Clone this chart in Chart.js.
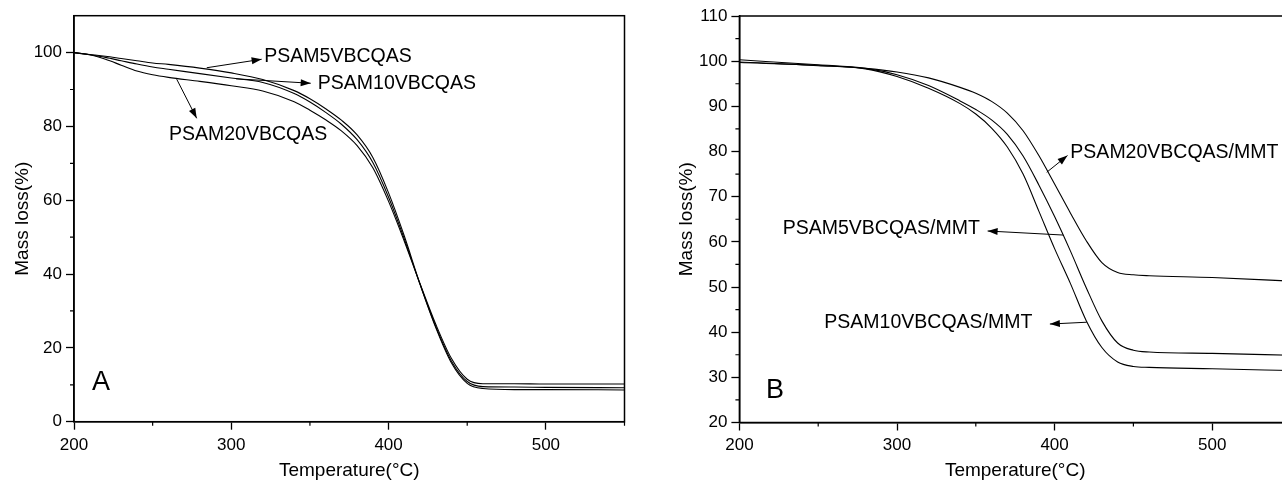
<!DOCTYPE html>
<html>
<head>
<meta charset="utf-8">
<script src="https://cdn.jsdelivr.net/npm/chart.js@4.4.1/dist/chart.umd.min.js"></script>
<style>
  html, body { margin: 0; padding: 0; background: #fff; overflow: hidden; width: 1282px; height: 487px; }
  .panel { position: absolute; top: 0; }
  #pa { left: 0; }
  #pb { left: 660px; }
</style>
</head>
<body>
<div class="panel" id="pa"><canvas id="ca" width="660" height="487"></canvas></div>
<div class="panel" id="pb"><canvas id="cb" width="660" height="487"></canvas></div>
<script>
'use strict';

// ── Data: panel A (copolymers) ────────────────────────────────────────────────
const tempA   = [200, 210, 220, 230, 240, 250, 260, 280, 300, 320, 340, 350, 360, 370, 380, 390, 400, 410, 420, 430, 440, 450, 460, 480, 500, 550];
const psam5A  = [100, 99.5, 99.0, 98.4, 97.8, 97.2, 96.8, 95.8, 94.5, 92.7, 89.7, 87.5, 84.8, 81.7, 77.7, 71.6, 62.0, 50.3, 37.3, 25.5, 15.9, 10.4, 9.0, 8.7, 8.7, 8.6];
const psam10A = [100, 99.4, 98.7, 97.8, 96.9, 96.1, 95.5, 94.3, 93.1, 91.9, 88.9, 86.6, 83.8, 80.6, 76.4, 70.2, 60.8, 49.5, 37.2, 25.8, 16.4, 10.9, 9.5, 9.4, 9.3, 9.2];
const psam20A = [100, 99.4, 98.2, 96.6, 95.0, 94.0, 93.3, 92.2, 91.0, 89.6, 86.7, 84.4, 81.8, 78.8, 74.8, 68.8, 59.7, 48.9, 37.4, 26.4, 17.1, 11.5, 10.3, 10.3, 10.2, 10.2];

// ── Data: panel B (MMT composites) ────────────────────────────────────────────
const tempB    = [200, 250, 280, 300, 320, 340, 350, 360, 370, 380, 390, 400, 410, 420, 430, 440, 450, 460, 500, 550];
const psam20B  = [99.7, 99.1, 98.4, 97.6, 96.3, 94.2, 92.9, 91.1, 88.5, 84.6, 79.1, 72.8, 66.4, 60.3, 55.4, 53.2, 52.7, 52.5, 52.1, 51.3];
const psam5B   = [100.3, 99.2, 98.4, 97.0, 94.6, 91.2, 89.3, 87.0, 83.8, 79.0, 72.6, 65.6, 58.0, 49.9, 42.5, 37.6, 36.0, 35.6, 35.3, 34.9];
const psam10B  = [99.8, 99.0, 98.3, 96.6, 94.0, 90.6, 88.3, 85.2, 81.0, 75.0, 66.8, 58.5, 50.8, 42.6, 36.6, 33.4, 32.4, 32.2, 31.9, 31.5];

// ── Labels with arrows: [text, textX, textY, fromX, fromY, toX, toY] in data units
const notesA = [
  ['PSAM5VBCQAS',  321,   98.8, 284.4, 95.9, 319.3, 98.2],
  ['PSAM10VBCQAS', 355,   91.7, 303,   92.9, 350.5, 91.7],
  ['PSAM20VBCQAS', 260.4, 77.7, 265.3, 92.8, 278,   82.2],
];
const notesB = [
  ['PSAM20VBCQAS/MMT', 410,   79.8, 395,   75.4, 408.2, 79.1],
  ['PSAM5VBCQAS/MMT',  227.5, 62.9, 405.5, 61.5, 357.5, 62.4],
  ['PSAM10VBCQAS/MMT', 253.9, 42.2, 420.4, 42.2, 397,   41.8],
];

Chart.defaults.font.family = "'Liberation Sans', Arial, sans-serif";
Chart.defaults.color = '#000';

// ── Frame, minor ticks, notes ─────────────────────────────────────────────────
const decor = {
  id: 'decor',
  afterDraw(chart, args, o) {
    const { ctx, chartArea: a, scales: { x, y } } = chart;
    ctx.save();
    ctx.strokeStyle = '#000';
    ctx.lineWidth = 1.5;
    ctx.strokeRect(a.left, a.top, a.right - a.left, a.bottom - a.top);

    ctx.lineWidth = 1.2;
    ctx.beginPath();
    x.ticks.forEach(t => {
      if (t.value % 100 === 0) return;
      const px = x.getPixelForValue(t.value);
      ctx.moveTo(px, a.bottom); ctx.lineTo(px, a.bottom + 4);
    });
    y.ticks.forEach(t => {
      if (t.value % o.yMajor === 0 || t.value > o.yTop) return;
      const py = y.getPixelForValue(t.value);
      ctx.moveTo(a.left - 4, py); ctx.lineTo(a.left, py);
    });
    ctx.stroke();

    ctx.fillStyle = '#000';
    ctx.font = "19.5px 'Liberation Sans', Arial, sans-serif";
    ctx.textAlign = 'left';
    ctx.textBaseline = 'middle';
    o.notes.forEach(([txt, tx, ty, fx, fy, hx, hy]) => {
      ctx.fillText(txt, x.getPixelForValue(tx), y.getPixelForValue(ty));
      const x0 = x.getPixelForValue(fx), y0 = y.getPixelForValue(fy);
      const x1 = x.getPixelForValue(hx), y1 = y.getPixelForValue(hy);
      const ang = Math.atan2(y1 - y0, x1 - x0);
      ctx.lineWidth = 1;
      ctx.beginPath(); ctx.moveTo(x0, y0); ctx.lineTo(x1, y1); ctx.stroke();
      ctx.beginPath();
      ctx.moveTo(x1, y1);
      ctx.lineTo(x1 - 10 * Math.cos(ang) + 3.5 * Math.sin(ang), y1 - 10 * Math.sin(ang) - 3.5 * Math.cos(ang));
      ctx.lineTo(x1 - 10 * Math.cos(ang) - 3.5 * Math.sin(ang), y1 - 10 * Math.sin(ang) + 3.5 * Math.cos(ang));
      ctx.closePath(); ctx.fill();
    });

    ctx.font = "27px 'Liberation Sans', Arial, sans-serif";
    ctx.fillText(o.letter[0], x.getPixelForValue(o.letter[1]), y.getPixelForValue(o.letter[2]));
    ctx.restore();
  }
};

function series(temps, vals) {
  return {
    data: temps.map((t, i) => ({ x: t, y: vals[i] })),
    borderColor: '#000',
    borderWidth: 1.1,
    pointRadius: 0,
    fill: false,
    cubicInterpolationMode: 'monotone',
  };
}

function makeChart(id, sets, c) {
  return new Chart(document.getElementById(id), {
    type: 'line',
    data: { datasets: sets },
    plugins: [decor],
    options: {
      responsive: false,
      animation: false,
      events: [],
      layout: { padding: { left: 0, top: c.top, right: c.right, bottom: 0 } },
      plugins: {
        legend: { display: false },
        tooltip: { enabled: false },
        decor: { notes: c.notes, letter: c.letter, yMajor: c.yMajor, yTop: c.yTop },
      },
      scales: {
        x: {
          type: 'linear', min: 200, max: 550,
          afterFit: s => { s.height = c.xH; s.paddingLeft = 0; s.paddingRight = 0; },
          border: { color: '#000', width: 1.5 },
          grid: {
            drawOnChartArea: false, tickLength: 8, tickWidth: 1.3,
            tickColor: k => (k.tick && k.tick.value % 100 === 0) ? '#000' : 'rgba(0,0,0,0)',
          },
          ticks: {
            stepSize: 50, autoSkip: false, maxRotation: 0, padding: 5, color: '#000',
            font: { size: 17 },
            callback: v => v % 100 === 0 ? String(v) : '',
          },
          title: { display: true, text: 'Temperature(°C)', color: '#000', font: { size: 19 }, padding: { top: 0, bottom: 5 } },
        },
        y: {
          type: 'linear', min: c.yMin, max: c.yMax,
          afterFit: s => { s.width = c.yW; s.paddingTop = 0; s.paddingBottom = 0; },
          border: { color: '#000', width: 1.5 },
          grid: {
            drawOnChartArea: false, tickLength: 8, tickWidth: 1.3,
            tickColor: k => (k.tick && k.tick.value % c.yMajor === 0 && k.tick.value <= c.yTop) ? '#000' : 'rgba(0,0,0,0)',
          },
          ticks: {
            stepSize: c.yStep, autoSkip: false, padding: 4, color: '#000',
            font: { size: 17 },
            callback: v => (v % c.yMajor === 0 && v <= c.yTop) ? String(v) : '',
          },
          title: { display: true, text: 'Mass loss(%)', color: '#000', font: { size: 19 }, padding: { top: c.yTitlePad, bottom: 0 } },
        },
      },
    },
  });
}

makeChart('ca', [series(tempA, psam5A), series(tempA, psam10A), series(tempA, psam20A)], {
  top: 15.7, right: 35.5, xH: 65.3, yW: 74, yMin: 0, yMax: 110, yStep: 10, yMajor: 20, yTop: 100,
  yTitlePad: 11.3, notes: notesA, letter: ['A', 211.4, 10.5],
});

makeChart('cb', [series(tempB, psam20B), series(tempB, psam5B), series(tempB, psam10B)], {
  top: 16, right: 29, xH: 64.5, yW: 79.4, yMin: 20, yMax: 110, yStep: 5, yMajor: 10, yTop: 110,
  yTitlePad: 15.6, notes: notesB, letter: ['B', 216.8, 27.1],
});
</script>
</body>
</html>
